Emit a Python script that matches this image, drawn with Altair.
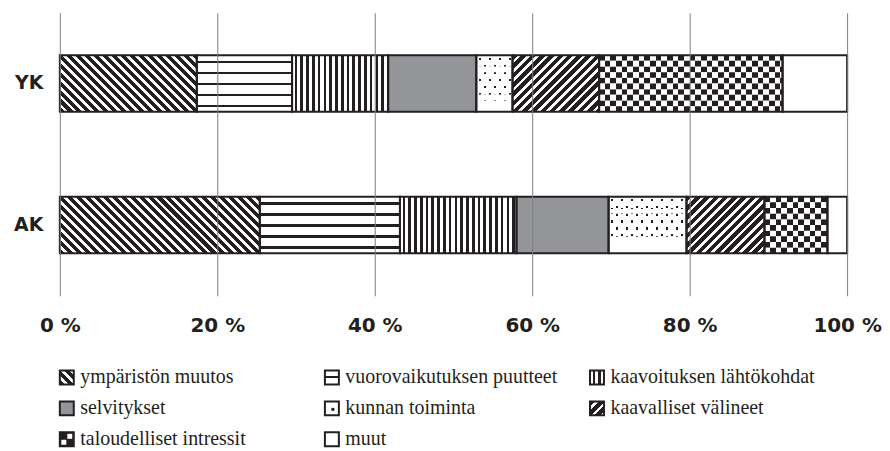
import math
import altair as alt
import pandas as pd

# ---------------- data ----------------
categories = [
    "ympäristön muutos",
    "vuorovaikutuksen puutteet",
    "kaavoituksen lähtökohdat",
    "selvitykset",
    "kunnan toiminta",
    "kaavalliset välineet",
    "taloudelliset intressit",
    "muut",
]
groups = ["YK", "AK"]
yk_values = [17.4, 12.1, 12.2, 11.2, 4.6, 11.0, 23.3, 8.2]
ak_values = [25.4, 17.8, 14.8, 11.7, 9.9, 9.9, 8.0, 2.5]
x_ticks = [0, 20, 40, 60, 80, 100]

# pattern kind for each category (style, not data)
pattern_kind = ["back", "hlines", "vlines", "grey", "dots", "fwd", "checker", "white"]

INK = "#231f20"
GREY = "#939598"
GRID = "#7d7d7d"
CLEAR = "rgba(255,255,255,0)"
SERIF = "'Liberation Serif', 'DejaVu Serif', 'Times New Roman', serif"

PLOT_W = 790
PLOT_H = 284
PAD_IN = 0.6
PAD_OUT = 0.3
STEP = PLOT_H / (len(groups) - PAD_IN + 2 * PAD_OUT)
BAR_H = STEP * (1 - PAD_IN)
ROWS = 8

rows = []
for g, vals in zip(groups, [yk_values, ak_values]):
    acc = 0.0
    for i, (c, v) in enumerate(zip(categories, vals)):
        rows.append(dict(group=g, category=c, idx=i, value=v, start=acc, end=acc + v))
        acc += v
df = pd.DataFrame(rows)


# ---------------- pattern helpers (gradients) ----------------
def band_stops(L, P, w, phase, on, off):
    stops = [(0.0, off)]
    k = math.floor(-phase / P) - 1
    while True:
        a = phase + k * P
        b = a + w
        if a >= L:
            break
        a2, b2 = max(a, 0.0), min(b, L)
        if b2 > a2:
            stops += [(a2 / L, off), (a2 / L, on), (b2 / L, on), (b2 / L, off)]
        k += 1
    stops.append((1.0, off))
    return [alt.GradientStop(offset=round(o, 5), color=c) for o, c in stops]


def vstripes(W, P, w, phase, on=INK, off="white"):
    return alt.LinearGradient(gradient="linear", stops=band_stops(W, P, w, phase, on, off),
                              x1=0, y1=0, x2=1, y2=0)


def hstripes(H, P, w, phase, on=INK, off="white"):
    return alt.LinearGradient(gradient="linear", stops=band_stops(H, P, w, phase, on, off),
                              x1=0, y1=0, x2=0, y2=1)


def diag_back(W, H, P_h=9.0, duty=0.56):
    c = (W + H) / (W * W + H * H)
    L = (W + H) / math.sqrt(2)
    P = P_h / math.sqrt(2)
    return alt.LinearGradient(gradient="linear", stops=band_stops(L, P, P * duty, 0.0, INK, "white"),
                              x1=0, y1=1, x2=round(c * W, 5), y2=round(1 - c * H, 5))


def diag_fwd(W, H, P_h=9.3, duty=0.6):
    c = (W + H) / (W * W + H * H)
    L = (W + H) / math.sqrt(2)
    P = P_h / math.sqrt(2)
    return alt.LinearGradient(gradient="linear", stops=band_stops(L, P, P * duty, 0.0, INK, "white"),
                              x1=0, y1=0, x2=round(c * W, 5), y2=round(c * H, 5))


def simple_fill(kind, W, H):
    if kind == "back":
        return diag_back(W, H)
    if kind == "fwd":
        return diag_fwd(W, H)
    if kind == "hlines":
        return hstripes(H, 11.0, 2.5, 5.5)
    if kind == "vlines":
        return vstripes(W, 5.8, 2.7, 2.6)
    if kind == "grey":
        return GREY
    return "white"


# ---------------- main bar chart ----------------
base = alt.Chart(df)
x_enc = alt.X("start:Q", scale=alt.Scale(domain=[0, 100], nice=False, zero=True),
              axis=alt.Axis(values=x_ticks, labelExpr="datum.value + ' %'", title=None,
                            ticks=False, domain=False, grid=True, gridColor=GRID, gridWidth=1,
                            labelFont="DejaVu Sans", labelFontWeight="bold", labelFontSize=20,
                            labelColor=INK, labelPadding=20, labelFlush=False,
                            labelOverlap=False, zindex=1))
x2_enc = alt.X2("end:Q")
y_enc = alt.Y("group:N", sort=groups,
              scale=alt.Scale(domain=groups, paddingInner=PAD_IN, paddingOuter=PAD_OUT),
              axis=alt.Axis(title=None, ticks=False, domain=False, grid=False,
                            labelFont="DejaVu Sans", labelFontWeight="bold", labelFontSize=19,
                            labelColor=INK, labelPadding=17, minExtent=46, maxExtent=46))

CHECK_ROWS = 10
layers = []
for g, vals in zip(groups, [yk_values, ak_values]):
    for i, kind in enumerate(pattern_kind):
        W = vals[i] / 100 * PLOT_W
        H = BAR_H
        sel = base.transform_filter(f"datum.group === '{g}' && datum.idx === {i}")
        if kind in ("checker", "dots"):
            nrows = CHECK_ROWS if kind == "checker" else ROWS
            s = H / nrows
            field = "crow" if kind == "checker" else "drow"
            yoff = alt.YOffset(f"{field}:O",
                               scale=alt.Scale(domain=list(range(nrows)), paddingInner=0, paddingOuter=0))
            for parity in (0, 1):
                if kind == "checker":
                    grad = vstripes(W, 2 * s, s, parity * s)
                else:
                    grad = vstripes(W, 10.0, 2.4, 2.5 + parity * 5.0)
                layers.append(
                    sel.transform_calculate(**{field: f"sequence(0, {nrows})"})
                    .transform_flatten([field])
                    .transform_filter(f"datum.{field} % 2 === {parity}")
                    .mark_bar(fill=grad, strokeWidth=0)
                    .encode(x=x_enc, x2=x2_enc, y=y_enc, yOffset=yoff)
                )
            if kind == "dots":
                layers.append(
                    sel.mark_bar(fill=hstripes(H, s, 2.4, (s - 2.4) / 2, on=CLEAR, off="white"),
                                 strokeWidth=0)
                    .encode(x=x_enc, x2=x2_enc, y=y_enc)
                )
        else:
            layers.append(
                sel.mark_bar(fill=simple_fill(kind, W, H), strokeWidth=0)
                .encode(x=x_enc, x2=x2_enc, y=y_enc)
            )

layers.append(
    base.mark_bar(fill="transparent", stroke=INK, strokeWidth=2)
    .encode(x=x_enc, x2=x2_enc, y=y_enc)
)

top = alt.layer(*layers).properties(width=PLOT_W, height=PLOT_H)

# ---------------- custom legend ----------------
ICON = 14
COL_STEP = 266
ROW_STEP = 31
ldf = pd.DataFrame({
    "category": categories,
    "idx": list(range(len(categories))),
    "col": [i % 3 for i in range(len(categories))],
    "lrow": [i // 3 for i in range(len(categories))],
})
lbase = alt.Chart(ldf)
lx = alt.X("col:O", scale=alt.Scale(domain=[0, 1, 2], paddingInner=1 - ICON / COL_STEP, paddingOuter=0),
           axis=None)
ly = alt.Y("lrow:O", scale=alt.Scale(domain=[0, 1, 2], paddingInner=1 - ICON / ROW_STEP, paddingOuter=0),
           axis=None)

llayers = []
for i, kind in enumerate(pattern_kind):
    sel = lbase.transform_filter(f"datum.idx === {i}")
    if kind == "checker":
        llayers.append(sel.mark_rect(fill=INK, strokeWidth=0).encode(x=lx, y=ly))
        for ox, oy in [(3, -3), (-3, 3)]:
            llayers.append(sel.mark_square(size=25, fill="white", opacity=1, filled=True,
                                           xOffset=ox, yOffset=oy, strokeWidth=0)
                           .encode(x=lx, y=ly))
    elif kind == "dots":
        llayers.append(sel.mark_rect(fill="white", strokeWidth=0).encode(x=lx, y=ly))
        llayers.append(sel.mark_square(size=9, fill=INK, opacity=1, filled=True,
                                       xOffset=1, yOffset=1, strokeWidth=0)
                       .encode(x=lx, y=ly))
    else:
        llayers.append(sel.mark_rect(fill=simple_fill(kind, ICON, ICON), strokeWidth=0)
                       .encode(x=lx, y=ly))

llayers.append(lbase.mark_rect(fill="transparent", stroke=INK, strokeWidth=2).encode(x=lx, y=ly))
llayers.append(
    lbase.mark_text(align="left", baseline="middle", dx=13.5, dy=0, font=SERIF,
                    fontSize=20, color=INK)
    .encode(x=lx, y=ly, text="category:N")
)
legend = alt.layer(*llayers).properties(
    width=COL_STEP * (3 - (1 - ICON / COL_STEP)),
    height=ROW_STEP * (3 - (1 - ICON / ROW_STEP)),
)

chart = (
    alt.vconcat(top, legend, spacing=32)
    .properties(padding={"left": 5, "top": 4, "right": 0, "bottom": 0})
    .configure_view(stroke=None)
)

chart.save("out.html", embed_options={"renderer": "svg", "actions": False})
